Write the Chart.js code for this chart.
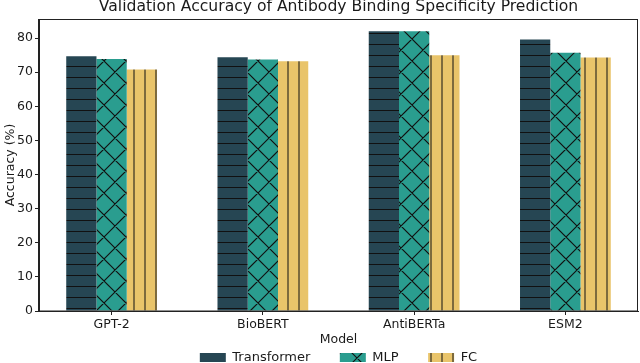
<!DOCTYPE html>
<html>
<head>
<meta charset="utf-8">
<script src="https://cdn.jsdelivr.net/npm/chart.js@4.4.0/dist/chart.umd.min.js"></script>
<style>
html,body{margin:0;padding:0;background:#fff;}
#wrap{width:640px;height:363px;position:relative;}
</style>
</head>
<body>
<div id="wrap"><canvas id="c" width="640" height="363"></canvas></div>
<script>
const categories = ['GPT-2', 'BioBERT', 'AntiBERTa', 'ESM2'];
const transformerValues = [74.7, 74.4, 82.0, 79.6];
const mlpValues = [73.9, 73.7, 82.0, 75.7];
const fcValues = [70.8, 73.2, 75.0, 74.3];
const yTickValues = [0, 10, 20, 30, 40, 50, 60, 70, 80];
const seriesNames = ['Transformer', 'MLP', 'FC'];

const FONT = "'DejaVu Sans', sans-serif";
const TXT = '#1a1a1a';

function makePattern(bg, type) {
  const s = type === 'x' ? 22 : 11;
  const c = document.createElement('canvas');
  c.width = s; c.height = s;
  const g = c.getContext('2d');
  g.fillStyle = bg; g.fillRect(0, 0, s, s);
  g.strokeStyle = '#111';
  g.lineWidth = type === 'x' ? 1.2 : 1;
  g.beginPath();
  if (type === 'h') {
    g.moveTo(0, 0.5); g.lineTo(s, 0.5);
  } else if (type === 'v') {
    g.moveTo(2, 0); g.lineTo(2, s);
  } else if (type === 'x') {
    for (let m = -2; m <= 2; m++) {
      g.moveTo(-2, -2 + 1 + s * m); g.lineTo(s + 2, s + 2 + 1 + s * m);
      g.moveTo(-2, 2 + 11 + s * m); g.lineTo(s + 2, -s - 2 + 11 + s * m);
    }
  }
  g.stroke();
  const ctx = document.getElementById('c').getContext('2d');
  return ctx.createPattern(c, 'repeat');
}

const pTransformer = makePattern('#264653', 'h');
const pMLP = makePattern('#2a9d8f', 'x');
const pFC = makePattern('#e9c46a', 'v');

function toPoints(vals) { return vals.map((v, i) => ({ x: i, y: v })); }

const framePlugin = {
  id: 'frame',
  afterLayout(chart) {
    const lg = chart.legend;
    if (lg) { const h = lg.height; lg.top = 321.5; lg.bottom = lg.top + h; }
  },
  afterDatasetsDraw(chart) {
    const { ctx, chartArea: a } = chart;
    ctx.save();
    ctx.strokeStyle = '#222';
    ctx.lineWidth = 1;
    ctx.strokeRect(Math.round(a.left) - 0.5, Math.round(a.top) + 0.5, Math.round(a.right - a.left), Math.round(a.bottom - a.top) - 0.5);
    ctx.restore();
  }
};

new Chart(document.getElementById('c'), {
  type: 'bar',
  data: {
    datasets: [
      { label: seriesNames[0], data: toPoints(transformerValues), backgroundColor: pTransformer, borderWidth: 0 },
      { label: seriesNames[1], data: toPoints(mlpValues), backgroundColor: pMLP, borderWidth: 0 },
      { label: seriesNames[2], data: toPoints(fcValues), backgroundColor: pFC, borderWidth: 0 }
    ]
  },
  plugins: [framePlugin],
  options: {
    responsive: false,
    animation: false,
    devicePixelRatio: 1,
    layout: { padding: { top: -2, left: 0, right: 2, bottom: -20.5 } },
    datasets: { bar: { categoryPercentage: 0.6, barPercentage: 1.0 } },
    plugins: {
      title: {
        display: true,
        fullSize: false,
        text: 'Validation Accuracy of Antibody Binding Specificity Prediction',
        font: { family: FONT, size: 15.6, weight: 'normal' },
        color: TXT,
        padding: { top: 0, bottom: 2.28 }
      },
      legend: {
        display: true,
        fullSize: false,
        position: 'bottom',
        labels: {
          font: { family: FONT, size: 13 },
          color: TXT,
          boxWidth: 26,
          boxHeight: 9,
          padding: 29.5
        }
      },
      tooltip: { enabled: false }
    },
    scales: {
      x: {
        type: 'linear',
        min: -0.48,
        max: 3.48,
        offset: false,
        afterFit(scale) { scale.height = 20; },
        afterBuildTicks(scale) { scale.ticks = categories.map((_, i) => ({ value: i })); },
        ticks: {
          font: { family: FONT, size: 12.5 },
          color: TXT,
          padding: 2,
          maxRotation: 0,
          autoSkip: false,
          callback: (v) => categories[v] !== undefined ? categories[v] : ''
        },
        grid: { drawOnChartArea: false, offset: false, tickLength: 4, color: '#222', tickWidth: 1 },
        border: { display: true, color: '#222', width: 1 },
        title: {
          display: true,
          text: 'Model',
          font: { family: FONT, size: 12.5 },
          color: TXT,
          padding: { top: 0, bottom: -16.5 }
        }
      },
      y: {
        min: 0,
        max: 85.6,
        afterFit(scale) { scale.width = 39; },
        afterBuildTicks(scale) { scale.ticks = yTickValues.map(v => ({ value: v })); },
        ticks: {
          font: { family: FONT, size: 12.5 },
          color: TXT,
          padding: 2
        },
        grid: { drawOnChartArea: false, tickLength: 4, color: '#222', tickWidth: 1 },
        border: { display: true, color: '#222', width: 1 },
        title: {
          display: true,
          text: 'Accuracy (%)',
          font: { family: FONT, size: 12.5 },
          color: TXT,
          padding: { top: 3, bottom: 0 }
        }
      }
    }
  }
});
</script>
</body>
</html>
